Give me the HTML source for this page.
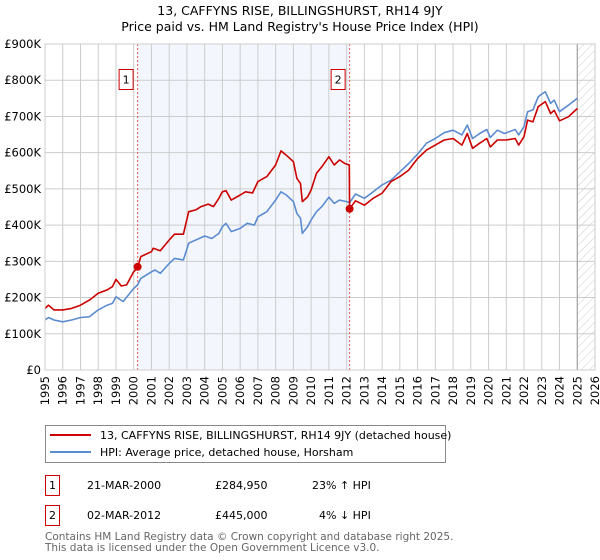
<!DOCTYPE html>
<html><head><meta charset="utf-8"><style>
body{margin:0;background:#fff;font-family:"DejaVu Sans","Liberation Sans",sans-serif;}
svg{display:block}
</style></head><body>
<svg width="600" height="560" xmlns="http://www.w3.org/2000/svg">
<defs><pattern id="hatch" width="6" height="6" patternUnits="userSpaceOnUse" patternTransform="rotate(45)"><line x1="0" y1="0" x2="0" y2="6" stroke="#ccc" stroke-width="1"/></pattern></defs>
<text x="300" y="15" text-anchor="middle" font-size="12.5" fill="#000">13, CAFFYNS RISE, BILLINGSHURST, RH14 9JY</text>
<text x="300" y="31" text-anchor="middle" font-size="12.5" fill="#000">Price paid vs. HM Land Registry's House Price Index (HPI)</text>
<g id="plot"></g>
<g>
<rect x="45.5" y="425.5" width="400" height="37" fill="#fff" stroke="#888"/>
<line x1="50" y1="435" x2="91" y2="435" stroke="#cc0000" stroke-width="2"/>
<text x="100" y="439" font-size="11">13, CAFFYNS RISE, BILLINGSHURST, RH14 9JY (detached house)</text>
<line x1="50" y1="452" x2="91" y2="452" stroke="#5b8bd0" stroke-width="2"/>
<text x="100" y="456" font-size="11">HPI: Average price, detached house, Horsham</text>
</g>
<g font-size="11">
<rect x="45.5" y="475.5" width="14" height="20" fill="#fff" stroke="#cc0000"/>
<text x="52.5" y="489" text-anchor="middle">1</text>
<text x="87" y="489">21-MAR-2000</text>
<text x="215" y="489">£284,950</text>
<text x="312" y="489">23% ↑ HPI</text>
<rect x="45.5" y="505.5" width="14" height="20" fill="#fff" stroke="#cc0000"/>
<text x="52.5" y="519" text-anchor="middle">2</text>
<text x="87" y="519">02-MAR-2012</text>
<text x="215" y="519">£445,000</text>
<text x="319" y="519">4% ↓ HPI</text>
</g>
<text x="45" y="540" font-size="10.5" fill="#666">Contains HM Land Registry data © Crown copyright and database right 2025.</text>
<text x="45" y="551" font-size="10.5" fill="#666">This data is licensed under the Open Government Licence v3.0.</text>
</svg>
<script>
const hpiYears=[1995,1995.2,1995.5,1996,1996.5,1997,1997.5,1998,1998.5,1998.8,1999,1999.4,2000,2000.22,2000.4,2001,2001.2,2001.5,2002,2002.3,2002.8,2003.1,2003.5,2004,2004.4,2004.8,2005,2005.2,2005.5,2006,2006.4,2006.8,2007,2007.5,2008,2008.3,2008.6,2009,2009.2,2009.4,2009.5,2009.8,2010,2010.3,2010.6,2011,2011.3,2011.6,2012,2012.17,2012.5,2013,2013.5,2014,2014.5,2015,2015.5,2016,2016.5,2017,2017.5,2018,2018.5,2018.8,2019.1,2019.5,2019.9,2020.1,2020.5,2020.9,2021.5,2021.7,2022,2022.2,2022.5,2022.8,2023,2023.2,2023.5,2023.7,2024,2024.5,2025];
const hpiValues=[138,145,138,133,138,145,147,166,179,184,202,189,225,235,253,271,276,267,294,308,304,350,359,370,363,377,396,405,382,391,405,400,423,437,469,492,483,465,432,419,377,396,414,437,451,477,460,469,465,462,486,474,492,511,524,547,570,596,626,639,655,662,649,676,639,653,664,642,662,653,664,649,672,713,718,754,762,768,736,745,713,731,750];
const priceYears=[1995,1995.2,1995.5,1996,1996.5,1997,1997.5,1998,1998.5,1998.8,1999,1999.3,1999.6,2000,2000.22,2000.4,2001,2001.1,2001.5,2002,2002.3,2002.8,2003.1,2003.5,2003.8,2004.2,2004.5,2004.8,2005,2005.2,2005.5,2006,2006.3,2006.7,2007,2007.5,2008,2008.3,2008.6,2009,2009.2,2009.4,2009.5,2009.8,2010,2010.3,2010.6,2011,2011.3,2011.6,2011.9,2012.15,2012.17,2012.5,2013,2013.5,2014,2014.5,2015,2015.5,2016,2016.5,2017,2017.5,2018,2018.5,2018.8,2019.1,2019.5,2019.9,2020.1,2020.5,2021,2021.5,2021.7,2022,2022.2,2022.5,2022.8,2023.2,2023.5,2023.7,2024,2024.5,2025];
const priceValues=[170,179,166,166,170,179,193,212,221,230,250,232,235,271,283,313,327,336,329,359,375,375,437,442,451,458,451,474,492,495,469,483,492,489,520,534,566,605,593,575,529,515,465,478,497,543,561,589,566,580,570,566,445,467,455,474,488,520,534,552,584,607,621,635,639,621,653,612,626,639,616,635,635,639,621,644,690,685,727,741,708,717,688,699,722];
const saleYears=[2000.22,2012.17];
const saleValues=[284.95,445];
const saleLabels=["1","2"];
const yTicks=[0,100,200,300,400,500,600,700,800,900];
const yTickLabels=["£0","£100K","£200K","£300K","£400K","£500K","£600K","£700K","£800K","£900K"];
const xTicks=[1995,1996,1997,1998,1999,2000,2001,2002,2003,2004,2005,2006,2007,2008,2009,2010,2011,2012,2013,2014,2015,2016,2017,2018,2019,2020,2021,2022,2023,2024,2025,2026];

const X0=45,X1=595,Y0=370,Y1=44;
const xs=y=>X0+(y-1995)/(2026-1995)*(X1-X0);
const ys=v=>Y0-v/900*(Y0-Y1);
const NS="http://www.w3.org/2000/svg";
const g=document.getElementById('plot');
function mk(tag,attrs,parent){const e=document.createElementNS(NS,tag);for(const k in attrs)e.setAttribute(k,attrs[k]);(parent||g).appendChild(e);return e;}

let e=mk('rect',{x:xs(saleYears[0]),y:Y1,width:xs(saleYears[1])-xs(saleYears[0]),height:Y0-Y1,fill:'#eef3fc',opacity:0.7});


e=mk('rect',{x:xs(2025),y:Y1,width:X1-xs(2025),height:Y0-Y1,fill:'url(#hatch)'});


xTicks.forEach(t=>{
  const l=mk('line',{x1:xs(t),x2:xs(t),y1:Y1,y2:Y0,stroke:'#ccc','stroke-width':1});
  
  
  const tx=mk('text',{x:0,y:0,transform:`translate(${xs(t)+4},${Y0+6}) rotate(-90)`,'text-anchor':'end','font-size':11.5});
  tx.textContent=t;
  
  
});
yTicks.forEach((t,i)=>{
  const l=mk('line',{x1:X0,x2:X1,y1:ys(t),y2:ys(t),stroke:'#ccc','stroke-width':1});
  
  
  const tx=mk('text',{x:X0-4,y:ys(t)+4,'text-anchor':'end','font-size':11.5});
  tx.textContent=yTickLabels[i];
  
  
});
e=mk('line',{x1:xs(2025),x2:xs(2025),y1:Y1,y2:Y0,stroke:'#999','stroke-width':1});


saleYears.forEach((s,i)=>{
  const l=mk('line',{x1:xs(s),x2:xs(s),y1:Y1,y2:Y0,stroke:'#e55','stroke-width':1,'stroke-dasharray':'2,2'});
  
  
  const r=mk('rect',{x:xs(s)-18.5,y:69.5,width:14,height:20,fill:'#fff',stroke:'#cc0000'});
  
  
  const t=mk('text',{x:xs(s)-11.5,y:83.5,'text-anchor':'middle','font-size':11});
  t.textContent=saleLabels[i];
  
  
});
function path(xa,va,color,name){
  const d=xa.map((x,i)=>(i?'L':'M')+xs(x).toFixed(1)+','+ys(va[i]).toFixed(1)).join('');
  const p=mk('path',{d:d,fill:'none',stroke:color,'stroke-width':1.6,'stroke-linejoin':'round'});
  
  
}
path(hpiYears,hpiValues,'#5b8bd0','hpi-line');
path(priceYears,priceValues,'#cc0000','property-price-line');
saleYears.forEach((s,i)=>{
  const c=mk('circle',{cx:xs(s),cy:ys(saleValues[i]),r:4,fill:'#cc0000'});
  
  
});
e=mk('rect',{x:X0,y:Y1,width:X1-X0,height:Y0-Y1,fill:'none',stroke:'#ccc'});


</script>
</body></html>
